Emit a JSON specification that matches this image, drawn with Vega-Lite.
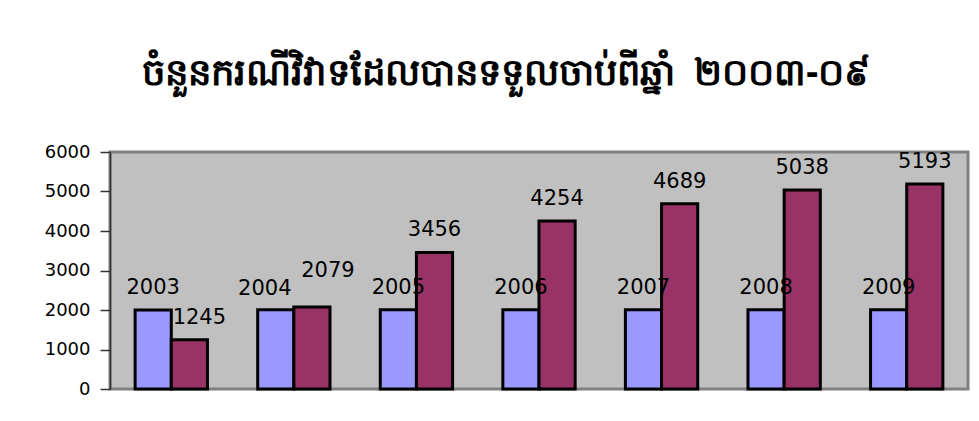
{
  "$schema": "https://vega.github.io/schema/vega-lite/v6.json",
  "width": 858,
  "height": 237,
  "autosize": {"type": "none"},
  "padding": {"left": 110, "top": 152, "right": 11, "bottom": 32},
  "background": "white",
  "title": {
    "text": "ចំនួនករណីវិវាទដែលបានទទួលចាប់ពីឆ្នាំ\u00a0\u00a0២០០៣-០៩",
    "font": "Noto Sans",
    "fontSize": 37,
    "fontWeight": "bold",
    "color": "black",
    "anchor": "middle",
    "frame": "bounds",
    "offset": 50
  },
  "data": {
    "values": [
      {"year": "2003", "series": "year", "value": 2003},
      {"year": "2003", "series": "cases", "value": 1245},
      {"year": "2004", "series": "year", "value": 2004},
      {"year": "2004", "series": "cases", "value": 2079},
      {"year": "2005", "series": "year", "value": 2005},
      {"year": "2005", "series": "cases", "value": 3456},
      {"year": "2006", "series": "year", "value": 2006},
      {"year": "2006", "series": "cases", "value": 4254},
      {"year": "2007", "series": "year", "value": 2007},
      {"year": "2007", "series": "cases", "value": 4689},
      {"year": "2008", "series": "year", "value": 2008},
      {"year": "2008", "series": "cases", "value": 5038},
      {"year": "2009", "series": "year", "value": 2009},
      {"year": "2009", "series": "cases", "value": 5193}
    ]
  },
  "encoding": {
    "x": {
      "field": "year",
      "type": "nominal",
      "axis": null,
      "scale": {"paddingInner": 0.41, "paddingOuter": 0.205}
    },
    "xOffset": {
      "field": "series",
      "type": "nominal",
      "sort": ["year", "cases"],
      "scale": {"paddingInner": 0, "paddingOuter": 0}
    },
    "y": {
      "field": "value",
      "type": "quantitative",
      "scale": {"domain": [0, 6000], "nice": false},
      "axis": {
        "values": [0, 1000, 2000, 3000, 4000, 5000, 6000],
        "format": "d",
        "title": null,
        "grid": false,
        "domain": true,
        "domainColor": "#333333",
        "domainWidth": 1.5,
        "tickColor": "#333333",
        "tickWidth": 1.5,
        "tickSize": 10,
        "labelPadding": 10,
        "labelFont": "DejaVu Sans",
        "labelFontSize": 18,
        "labelColor": "black"
      }
    }
  },
  "layer": [
    {
      "mark": {"type": "bar", "stroke": "black", "strokeWidth": 3},
      "encoding": {
        "color": {
          "field": "series",
          "type": "nominal",
          "scale": {"domain": ["year", "cases"], "range": ["#9999FF", "#993366"]},
          "legend": null
        }
      }
    },
    {
      "transform": [
        {"filter": "!((datum.year == '2003' && datum.series == 'cases') || (datum.year == '2004'))"}
      ],
      "mark": {
        "type": "text",
        "baseline": "alphabetic",
        "dy": -16,
        "fontSize": 21,
        "font": "DejaVu Sans",
        "color": "black"
      },
      "encoding": {
        "text": {"field": "value", "type": "quantitative", "format": "d"}
      }
    },
    {
      "transform": [
        {"filter": "datum.year == '2003' && datum.series == 'cases'"}
      ],
      "mark": {
        "type": "text",
        "baseline": "alphabetic",
        "dx": 10,
        "dy": -16,
        "fontSize": 21,
        "font": "DejaVu Sans",
        "color": "black"
      },
      "encoding": {
        "text": {"field": "value", "type": "quantitative", "format": "d"}
      }
    },
    {
      "transform": [
        {"filter": "datum.year == '2004' && datum.series == 'year'"}
      ],
      "mark": {
        "type": "text",
        "baseline": "alphabetic",
        "dx": -11,
        "dy": -15,
        "fontSize": 21,
        "font": "DejaVu Sans",
        "color": "black"
      },
      "encoding": {
        "text": {"field": "value", "type": "quantitative", "format": "d"}
      }
    },
    {
      "transform": [
        {"filter": "datum.year == '2004' && datum.series == 'cases'"}
      ],
      "mark": {
        "type": "text",
        "baseline": "alphabetic",
        "dx": 16,
        "dy": -30,
        "fontSize": 21,
        "font": "DejaVu Sans",
        "color": "black"
      },
      "encoding": {
        "text": {"field": "value", "type": "quantitative", "format": "d"}
      }
    }
  ],
  "config": {
    "view": {"fill": "#C0C0C0", "stroke": "#808080", "strokeWidth": 3}
  }
}
